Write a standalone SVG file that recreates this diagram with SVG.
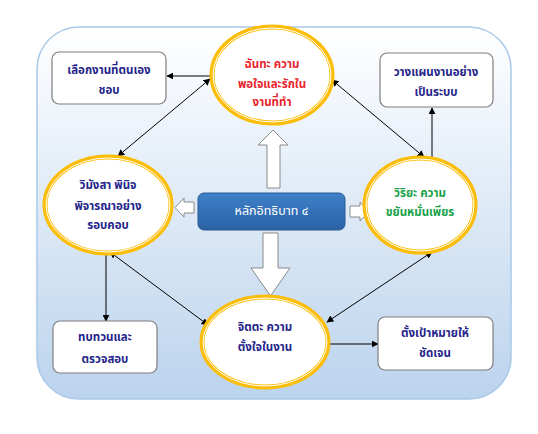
<svg xmlns="http://www.w3.org/2000/svg" width="538" height="434" viewBox="0 0 538 434">
<defs>
<linearGradient id="bg" x1="0" y1="0" x2="0" y2="1">
<stop offset="0" stop-color="#ffffff"/>
<stop offset="1" stop-color="#bbd3ed"/>
</linearGradient>
<linearGradient id="cb" x1="0" y1="0" x2="0" y2="1">
<stop offset="0" stop-color="#3f80c6"/>
<stop offset="0.5" stop-color="#3471b8"/>
<stop offset="1" stop-color="#2b62a4"/>
</linearGradient>
<marker id="ah" viewBox="0 0 10 10" refX="9" refY="5" markerWidth="7" markerHeight="7" orient="auto-start-reverse" markerUnits="userSpaceOnUse">
<path d="M0,0 L10,5 L0,10 z" fill="#000"/>
</marker>
</defs>
<style>
text{font-family:"Noto Sans Thai","Tahoma","Noto Sans","DejaVu Sans",sans-serif;font-size:11.5px;font-weight:bold;text-anchor:middle;dominant-baseline:central}
.box{fill:#fff;stroke:#7f7f7f;stroke-width:1.2}
.ell{fill:#fff;stroke:#fbbd08;stroke-width:5}
.ell2{fill:none;stroke:#fff;stroke-width:1}
.blue{fill:#25258a}
.red{fill:#e8242c}
.green{fill:#17a34a}
.conn line{stroke:#000;stroke-width:1}
.blk{fill:#fff;stroke:#8a8a8a;stroke-width:1}
</style>
<rect x="37" y="27" width="474" height="372" rx="42" fill="url(#bg)" stroke="#a9c9e8" stroke-width="1.5"/>

<g id="connectors" class="conn">
<line x1="211" y1="76" x2="167" y2="76" marker-end="url(#ah)"/>
<line x1="210" y1="79" x2="118" y2="156" marker-start="url(#ah)" marker-end="url(#ah)"/>
<line x1="332" y1="80" x2="424" y2="157" marker-start="url(#ah)" marker-end="url(#ah)"/>
<line x1="432" y1="158" x2="432" y2="108" marker-end="url(#ah)"/>
<line x1="106" y1="254" x2="106" y2="321" marker-end="url(#ah)"/>
<line x1="110" y1="252" x2="208" y2="325" marker-start="url(#ah)" marker-end="url(#ah)"/>
<line x1="432" y1="252" x2="327" y2="322" marker-start="url(#ah)" marker-end="url(#ah)"/>
<line x1="329" y1="344" x2="378" y2="344" marker-end="url(#ah)"/>
</g>

<g id="block-arrows">
<path class="blk" d="M267,188 L267,145 L258,145 L273,130 L288,145 L280,145 L280,188 z"/>
<path class="blk" d="M263,233 L278,233 L278,268 L290,268 L270.5,296 L251,268 L263,268 z"/>
<path class="blk" d="M194,202 L184,202 L184,198 L175,207.5 L184,217 L184,213 L194,213 z"/>
<path class="blk" d="M350,206 L360,206 L360,202 L369,211.5 L360,221 L360,217 L350,217 z"/>
</g>

<g id="n-top">
<ellipse class="ell" cx="272" cy="75" rx="60" ry="48"/>
<ellipse class="ell2" cx="272" cy="75" rx="59" ry="47"/>
<text class="red" x="272" y="64">ฉันทะ  ความ</text>
<text class="red" x="272" y="84">พอใจและรักใน</text>
<text class="red" x="272" y="102">งานที่ทำ</text>
</g>

<g id="n-choose">
<rect class="box" x="52" y="52" width="114" height="52" rx="7"/>
<text class="blue" x="109" y="70">เลือกงานที่ตนเอง</text>
<text class="blue" x="109" y="90">ชอบ</text>
</g>

<g id="n-plan">
<rect class="box" x="380" y="53" width="113" height="54" rx="7"/>
<text class="blue" x="436" y="72">วางแผนงานอย่าง</text>
<text class="blue" x="436" y="92">เป็นระบบ</text>
</g>

<g id="n-left">
<ellipse class="ell" cx="108" cy="205" rx="63" ry="48"/>
<ellipse class="ell2" cx="108" cy="205" rx="62" ry="47"/>
<text class="blue" x="108" y="185">วิมังสา พินิจ</text>
<text class="blue" x="108" y="206">พิจารณาอย่าง</text>
<text class="blue" x="108" y="225">รอบคอบ</text>
</g>

<g id="n-center">
<rect x="198" y="193" width="147" height="37" rx="6" fill="url(#cb)" stroke="#2a5a95" stroke-width="1"/>
<text x="271.5" y="211.5" fill="#fff" style="font-weight:normal;font-size:12.5px">หลักอิทธิบาท ๔</text>
</g>

<g id="n-right">
<ellipse class="ell" cx="420" cy="205" rx="55" ry="47"/>
<ellipse class="ell2" cx="420" cy="205" rx="54" ry="46"/>
<text class="green" x="420" y="193">วิริยะ ความ</text>
<text class="green" x="420" y="212">ขยันหมั่นเพียร</text>
</g>

<g id="n-bottom">
<ellipse class="ell" cx="265" cy="342" rx="63" ry="45"/>
<ellipse class="ell2" cx="265" cy="342" rx="62" ry="44"/>
<text class="blue" x="265" y="327">จิตตะ ความ</text>
<text class="blue" x="265" y="347">ตั้งใจในงาน</text>
</g>

<g id="n-review">
<rect class="box" x="53" y="321" width="104" height="52" rx="7"/>
<text class="blue" x="105" y="337">ทบทวนและ</text>
<text class="blue" x="105" y="359">ตรวจสอบ</text>
</g>

<g id="n-goal">
<rect class="box" x="378" y="317" width="115" height="53" rx="7"/>
<text class="blue" x="435" y="333">ตั้งเป้าหมายให้</text>
<text class="blue" x="435" y="353">ชัดเจน</text>
</g>
</svg>
